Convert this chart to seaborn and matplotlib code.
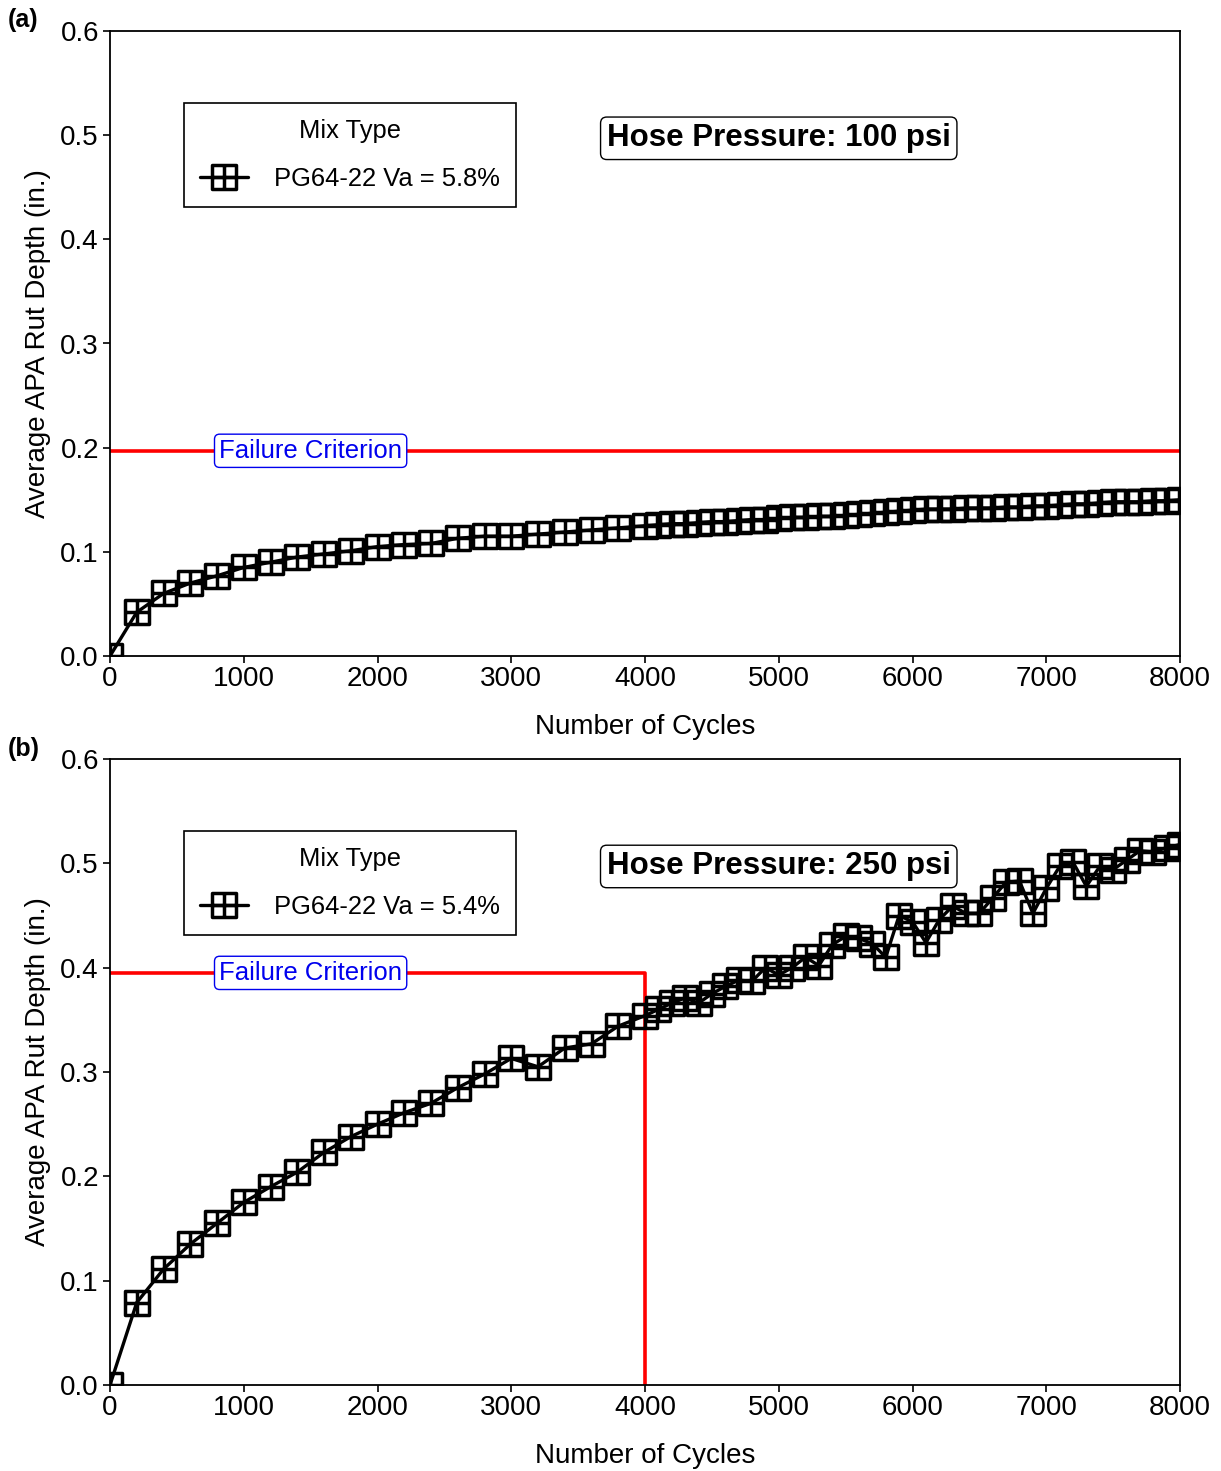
import numpy as np
import pandas as pd
import matplotlib
matplotlib.use("Agg")
import matplotlib.pyplot as plt
from matplotlib.path import Path
from matplotlib.markers import MarkerStyle
import seaborn as sns

# ---------------- data ----------------
cycles_a = [0, 200, 400, 600, 800, 1000, 1200, 1400, 1600, 1800, 2000, 2200, 2400,
            2600, 2800, 3000, 3200, 3400, 3600, 3800, 4000,
            4100, 4200, 4300, 4400, 4500, 4600, 4700, 4800, 4900, 5000,
            5100, 5200, 5300, 5400, 5500, 5600, 5700, 5800, 5900, 6000,
            6100, 6200, 6300, 6400, 6500, 6600, 6700, 6800, 6900, 7000,
            7100, 7200, 7300, 7400, 7500, 7600, 7700, 7800, 7900, 8000]
rut_a = [0.000, 0.042, 0.060, 0.070, 0.077, 0.085, 0.090, 0.095, 0.098, 0.101, 0.105,
         0.107, 0.108, 0.113, 0.115, 0.115, 0.117, 0.119, 0.121, 0.123, 0.125,
         0.126, 0.127, 0.127, 0.128, 0.129, 0.129, 0.130, 0.131, 0.131, 0.132,
         0.133, 0.133, 0.134, 0.134, 0.135, 0.136, 0.137, 0.138, 0.139, 0.140,
         0.141, 0.141, 0.141, 0.142, 0.142, 0.142, 0.143, 0.143, 0.144, 0.144,
         0.145, 0.146, 0.146, 0.147, 0.148, 0.148, 0.148, 0.149, 0.149, 0.150]

cycles_b = list(cycles_a)
rut_b = [0.000, 0.079, 0.111, 0.135, 0.155, 0.175, 0.190, 0.204, 0.223, 0.238, 0.250,
         0.261, 0.270, 0.285, 0.298, 0.313, 0.305, 0.323, 0.327, 0.344, 0.354,
         0.360, 0.366, 0.371, 0.366, 0.375, 0.382, 0.388, 0.387, 0.400, 0.393,
         0.400, 0.410, 0.402, 0.422, 0.430, 0.428, 0.423, 0.410, 0.450, 0.444,
         0.424, 0.446, 0.459, 0.452, 0.452, 0.467, 0.482, 0.483, 0.452, 0.476,
         0.497, 0.501, 0.478, 0.497, 0.494, 0.503, 0.512, 0.511, 0.515, 0.518]

x_ticks = [0, 1000, 2000, 3000, 4000, 5000, 6000, 7000, 8000]
y_ticks = [0.0, 0.1, 0.2, 0.3, 0.4, 0.5, 0.6]

panels = ["(a)", "(b)"]
mix_labels = ["PG64-22 Va = 5.8%", "PG64-22 Va = 5.4%"]
pressures = ["Hose Pressure: 100 psi", "Hose Pressure: 250 psi"]
failure_depth = [0.197, 0.395]
failure_cycles = [None, 4000]

# ---------------- style ----------------
sns.set_theme(style="ticks")
plt.rcParams["font.family"] = ["Liberation Sans", "DejaVu Sans"]
plt.rcParams["axes.edgecolor"] = "black"
plt.rcParams["xtick.color"] = "black"
plt.rcParams["ytick.color"] = "black"
plt.rcParams["text.color"] = "black"
plt.rcParams["axes.labelcolor"] = "black"

# square-with-cross marker
verts = [(-1, -1), (1, -1), (1, 1), (-1, 1), (-1, -1),
         (-1, 0), (1, 0), (0, -1), (0, 1)]
codes = [Path.MOVETO, Path.LINETO, Path.LINETO, Path.LINETO, Path.CLOSEPOLY,
         Path.MOVETO, Path.LINETO, Path.MOVETO, Path.LINETO]
box_plus = MarkerStyle(Path(verts, codes))

fig = plt.figure(figsize=(12.21, 14.71), dpi=100)
left, right = 110 / 1221, 1180 / 1221
ax_a = fig.add_axes([left, 1 - 656 / 1471, right - left, 625 / 1471])
ax_b = fig.add_axes([left, 1 - 1385 / 1471, right - left, 626 / 1471])

datasets = [(cycles_a, rut_a), (cycles_b, rut_b)]
for i, ax in enumerate([ax_a, ax_b]):
    cx, ry = datasets[i]
    df = pd.DataFrame({"Number of Cycles": cx, "Rut": ry})
    # failure criterion line
    fc = failure_cycles[i]
    if fc is None:
        ax.axhline(failure_depth[i], color="#ff0000", lw=2.6, zorder=1)
    else:
        ax.plot([0, fc, fc], [failure_depth[i], failure_depth[i], 0],
                color="#ff0000", lw=2.6, zorder=1)
    sns.lineplot(data=df, x="Number of Cycles", y="Rut", ax=ax, color="black",
                 lw=2.4, marker=box_plus, markersize=17, mfc="none",
                 mec="black", mew=2.5, label=mix_labels[i], zorder=3)
    ax.set_xlim(0, 8000)
    ax.set_ylim(0, 0.6)
    ax.set_xticks(x_ticks)
    ax.set_yticks(y_ticks)
    ax.set_yticklabels([f"{v:.1f}" for v in y_ticks])
    ax.tick_params(labelsize=20, length=5, width=1.2, direction="out", pad=3)
    ax.tick_params(axis="x", pad=2)
    ax.set_xlabel("Number of Cycles", fontsize=20, labelpad=16)
    ax.set_ylabel("Average APA Rut Depth (in.)", fontsize=20, labelpad=6.5)
    for sp in ax.spines.values():
        sp.set_visible(True)
        sp.set_linewidth(1.3)
        sp.set_color("black")

    leg = ax.legend(title="Mix Type", loc="upper left",
                    bbox_to_anchor=(0.069, 0.885), borderaxespad=0,
                    fontsize=18.4, title_fontsize=18.4, fancybox=False,
                    edgecolor="black", framealpha=1, handlelength=1.9,
                    borderpad=0.62, handletextpad=1.0, labelspacing=0.95)
    leg.get_frame().set_linewidth(1.2)

    ax.text(5000, 0.497, pressures[i], fontsize=22.5, fontweight="bold",
            ha="center", va="center",
            bbox=dict(boxstyle="round,pad=0.2,rounding_size=0.2",
                      fc="white", ec="black", lw=1.0))
    ax.text(1500, failure_depth[i], "Failure Criterion", fontsize=18.5,
            color="#0000ee", ha="center", va="center", zorder=4,
            bbox=dict(boxstyle="round,pad=0.18,rounding_size=0.2",
                      fc="white", ec="#0000ee", lw=1.0))

fig.text(8 / 1221, 1 - 20 / 1471, panels[0], fontsize=18, fontweight="bold",
         ha="left", va="center")
fig.text(8 / 1221, 1 - 749 / 1471, panels[1], fontsize=18, fontweight="bold",
         ha="left", va="center")

fig.savefig("out.png", dpi=100)
